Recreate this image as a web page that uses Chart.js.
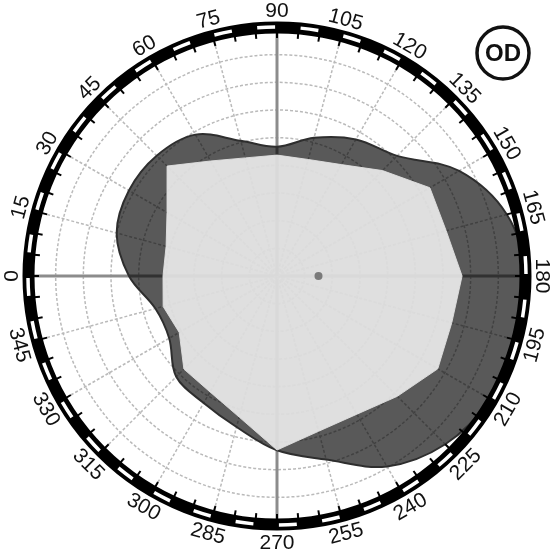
<!DOCTYPE html>
<html>
<head>
<meta charset="utf-8">
<script src="https://cdn.jsdelivr.net/npm/chart.js@4.4.1/dist/chart.umd.min.js"></script>
<style>
  html, body { margin: 0; padding: 0; background: #fff; }
  #wrap { width: 555px; height: 557px; }
</style>
</head>
<body>
<div id="wrap"><canvas id="fieldChart" width="555" height="557"></canvas></div>
<script>
// meridians, clockwise from the top
var meridians = ['90', '105', '120', '135', '150', '165', '180', '195', '210', '225', '240', '255',
                 '270', '285', '300', '315', '330', '345', '0', '15', '30', '45', '60', '75'];

// eccentricity (degrees) of the outer isopter on each meridian - dark area
var outerIsopter = [46.7, 51.7, 57, 61.4, 76, 86, 90, 90, 89, 86, 79.5, 68.7,
                    63, 56.5, 53, 51.5, 45, 45.5, 53.5, 60, 61.8, 61.5, 59, 50.6];

// eccentricity of the inner isopter - light area
var innerIsopter = [43.7, 43.6, 46.5, 53.9, 63.8, 63.3, 66.9, 65.4, 67.1, 61.5, 57.7, 58.1,
                    62.9, 52.8, 48.4, 47.6, 40.8, 42.6, 41.2, 41.5, 45.9, 56.2, 48, 44.2];

// physiological blind spot
var blindSpot = [null, null, null, null, null, null, 15, null, null, null, null, null,
                 null, null, null, null, null, null, null, null, null, null, null, null];

var eccTicks = [0, 10, 20, 30, 40, 50, 60, 70, 80, 90];
var eyeLabel = 'OD';

var mainAxes = ['0', '90', '180', '270'];

var ringPlugin = {
    id: 'ring',
    afterDatasetsDraw: function (chart) {
        var r = chart.scales.r;
        var ctx = chart.ctx;
        var cx = r.xCenter, cy = r.yCenter;
        var rad = r.getDistanceFromCenterForValue(eccTicks[eccTicks.length - 1]);
        var start = r.getIndexAngle(0) - Math.PI / 2;
        var k, a;
        ctx.save();

        // black outer ring
        ctx.beginPath();
        ctx.arc(cx, cy, rad - 0.5, 0, Math.PI * 2);
        ctx.lineWidth = 12;
        ctx.strokeStyle = '#000';
        ctx.stroke();

        // white dashes in the ring
        ctx.strokeStyle = '#fff';
        ctx.lineWidth = 3.5;
        for (k = 0; k < 36; k++) {
            a = start + (7.5 + 10 * k) * Math.PI / 180;
            ctx.beginPath();
            ctx.arc(cx, cy, rad, a - 0.036, a + 0.036);
            ctx.stroke();
        }

        // small ticks every 5 degrees
        ctx.strokeStyle = '#000';
        ctx.lineWidth = 2;
        for (k = 0; k < 72; k++) {
            a = start + k * 5 * Math.PI / 180;
            ctx.beginPath();
            ctx.moveTo(cx + Math.cos(a) * (rad - 5), cy + Math.sin(a) * (rad - 5));
            ctx.lineTo(cx + Math.cos(a) * (rad - 11), cy + Math.sin(a) * (rad - 11));
            ctx.stroke();
        }

        // meridian labels, rotated along the ring
        ctx.font = '21px "Liberation Sans", Arial, sans-serif';
        ctx.fillStyle = '#111';
        ctx.textAlign = 'center';
        ctx.textBaseline = 'middle';
        chart.data.labels.forEach(function (lab, i) {
            var p = r.getPointPosition(i, rad + 17);
            var ang = r.getIndexAngle(i);
            var rot = (ang <= Math.PI / 2 + 1e-6 || ang >= 3 * Math.PI / 2 - 1e-6) ? ang : ang - Math.PI;
            ctx.save();
            ctx.translate(p.x, p.y);
            ctx.rotate(rot);
            ctx.fillText(lab, 0, 1);
            ctx.restore();
        });

        // eye badge
        var bx = chart.width - 52, by = 53;
        ctx.beginPath();
        ctx.arc(bx, by, 26, 0, Math.PI * 2);
        ctx.lineWidth = 3.5;
        ctx.strokeStyle = '#111';
        ctx.stroke();
        ctx.font = 'bold 24px "Liberation Sans", Arial, sans-serif';
        ctx.fillText(eyeLabel, bx, by + 1);
        ctx.restore();
    }
};

var ctx = document.getElementById('fieldChart').getContext('2d');

var fieldChart = new Chart(ctx, {
    type: 'radar',
    data: {
        labels: meridians,
        datasets: [{
            label: 'Blind spot',
            data: blindSpot,
            borderWidth: 0,
            pointRadius: 4,
            pointBackgroundColor: '#7a7a7a',
            pointBorderWidth: 0,
            fill: false
        }, {
            label: 'Inner isopter',
            data: innerIsopter,
            backgroundColor: 'rgba(245, 245, 245, 0.86)',
            borderColor: 'rgba(225, 225, 225, 0.9)',
            borderWidth: 1,
            pointRadius: 0,
            tension: 0,
            fill: true
        }, {
            label: 'Outer isopter',
            data: outerIsopter,
            backgroundColor: 'rgba(0, 0, 0, 0.65)',
            borderColor: '#2e2e2e',
            borderWidth: 2,
            pointRadius: 0,
            tension: 0.35,
            fill: true
        }]
    },
    options: {
        responsive: false,
        animation: false,
        layout: {
            padding: { left: 28, right: 28, top: 27, bottom: 32 }
        },
        plugins: {
            legend: { display: false },
            tooltip: { enabled: false }
        },
        scales: {
            r: {
                min: 0,
                max: 90,
                startAngle: 0,
                ticks: { display: false, stepSize: 10 },
                pointLabels: { display: false },
                grid: {
                    circular: true,
                    color: '#bababa',
                    lineWidth: 1.5
                },
                border: { dash: [3, 2] },
                angleLines: {
                    color: function (c) {
                        return mainAxes.indexOf(meridians[c.index]) >= 0 ? '#8c8c8c' : '#bababa';
                    },
                    lineWidth: function (c) {
                        return mainAxes.indexOf(meridians[c.index]) >= 0 ? 3 : 1.5;
                    },
                    borderDash: function (c) {
                        return mainAxes.indexOf(meridians[c.index]) >= 0 ? [] : [3, 2];
                    }
                }
            }
        }
    },
    plugins: [ringPlugin]
});
</script>
</body>
</html>
